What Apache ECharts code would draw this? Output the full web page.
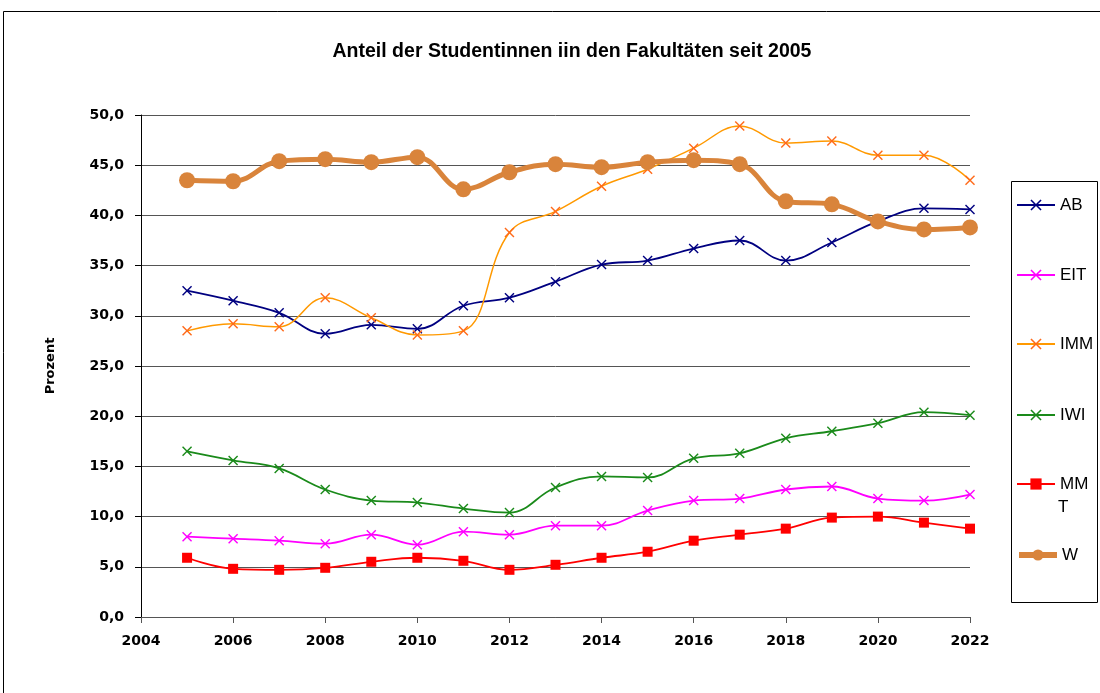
<!DOCTYPE html>
<html>
<head>
<meta charset="utf-8">
<script src="https://cdn.jsdelivr.net/npm/echarts@6/dist/echarts.min.js"></script>
<style>
html, body { margin: 0; padding: 0; background: #fff; }
#main { width: 1100px; height: 693px; }
</style>
</head>
<body>
<div id="main"></div>
<script>
var years = [2005, 2006, 2007, 2008, 2009, 2010, 2011, 2012, 2013, 2014, 2015, 2016, 2017, 2018, 2019, 2020, 2021, 2022];
var ab  = [32.5, 31.5, 30.3, 28.2, 29.1, 28.7, 31.0, 31.8, 33.4, 35.1, 35.5, 36.7, 37.5, 35.5, 37.3, 39.4, 40.7, 40.6];
var eit = [8.0, 7.8, 7.6, 7.3, 8.2, 7.2, 8.5, 8.2, 9.1, 9.1, 10.6, 11.6, 11.8, 12.7, 13.0, 11.8, 11.6, 12.2];
var imm = [28.5, 29.2, 28.9, 31.8, 29.8, 28.1, 28.5, 38.3, 40.4, 42.9, 44.6, 46.7, 48.9, 47.2, 47.4, 46.0, 46.0, 43.5];
var iwi = [16.5, 15.6, 14.8, 12.7, 11.6, 11.4, 10.8, 10.4, 12.9, 14.0, 13.9, 15.8, 16.3, 17.8, 18.5, 19.3, 20.4, 20.1];
var mmt = [5.9, 4.8, 4.7, 4.9, 5.5, 5.9, 5.6, 4.7, 5.2, 5.9, 6.5, 7.6, 8.2, 8.8, 9.9, 10.0, 9.4, 8.8];
var w   = [43.5, 43.4, 45.4, 45.6, 45.3, 45.8, 42.6, 44.3, 45.1, 44.8, 45.3, 45.5, 45.1, 41.4, 41.1, 39.4, 38.6, 38.8];
var names = ['AB', 'EIT', 'IMM', 'IWI', 'MMT', 'W'];

var dom = document.getElementById('main');
var myChart = echarts.init(dom);
var cross = 'path://M1,0 L5,4 L9,0 L10,1 L6,5 L10,9 L9,10 L5,6 L1,10 L0,9 L4,5 L0,1 Z';
var font = "'Liberation Sans', Arial, sans-serif";
var axisFont = "'DejaVu Sans', Verdana, sans-serif";

function pairs(arr) {
    return years.map(function (y, i) { return [y, arr[i]]; });
}

function lineSeries(name, arr, lineColor, markColor, width, symbol, size) {
    return {
        name: name,
        type: 'line',
        smooth: 0.4,
        data: pairs(arr),
        symbol: symbol,
        symbolSize: size,
        lineStyle: { color: lineColor, width: width },
        itemStyle: { color: markColor },
        emphasis: { disabled: true }
    };
}

// legend items, one per row, centred on these y positions
var legendY = [205, 275, 344, 415, 484, 555];
var legends = names.map(function (n, i) {
    return {
        data: [n],
        left: 1016,
        top: legendY[i] - 10,
        padding: 0,
        itemWidth: 38,
        itemHeight: 14,
        itemGap: 4,
        selectedMode: false,
        lineStyle: n === 'W' ? { width: 6 } : { width: 2 },
        formatter: function (name) { return name === 'MMT' ? 'MM' : name; },
        textStyle: { fontFamily: font, fontSize: 17, color: '#000', lineHeight: 20 }
    };
});

option = {
    animation: false,
    backgroundColor: '#fff',
    title: {
        text: 'Anteil der Studentinnen iin den Fakultäten seit 2005',
        left: 567,
        textAlign: 'center',
        top: 37,
        textStyle: { fontFamily: font, fontSize: 19.5, fontWeight: 'bold', color: '#000' }
    },
    legend: legends,
    grid: { left: 141, right: 130, top: 115, bottom: 76 },
    xAxis: {
        type: 'value',
        min: 2004,
        max: 2022,
        interval: 2,
        axisLine: { show: true, lineStyle: { color: '#555', width: 1 } },
        axisTick: { show: true, length: 6, lineStyle: { color: '#555' } },
        splitLine: { show: false },
        axisLabel: {
            margin: 17, fontFamily: axisFont, fontSize: 14, fontWeight: 'bold', color: '#000',
            formatter: function (v) { return String(v); }
        }
    },
    yAxis: {
        type: 'value',
        min: 0,
        max: 50,
        interval: 5,
        name: 'Prozent',
        nameLocation: 'middle',
        nameGap: 84,
        nameTextStyle: { fontFamily: axisFont, fontSize: 13, fontWeight: 'bold', color: '#000' },
        axisLine: { show: true, lineStyle: { color: '#000', width: 1 } },
        axisTick: { show: true, length: 6, lineStyle: { color: '#000' } },
        splitLine: { lineStyle: { color: '#555', width: 1 } },
        axisLabel: {
            margin: 17, fontFamily: axisFont, fontSize: 14, fontWeight: 'bold', color: '#000',
            formatter: function (v) { return v.toFixed(1).replace('.', ','); }
        }
    },
    graphic: [
        { type: 'rect', shape: { x: 3.5, y: 11.5, width: 1200, height: 800 }, style: { fill: null, stroke: '#000', lineWidth: 1 }, silent: true },
        { type: 'rect', shape: { x: 1011.5, y: 181.5, width: 86, height: 421 }, style: { fill: null, stroke: '#000', lineWidth: 1 }, silent: true },
        { type: 'text', left: 1058, top: 499, style: { text: 'T', fontFamily: font, fontSize: 17, fill: '#000' }, silent: true }
    ],
    series: [
        lineSeries('AB', ab, '#000080', '#000080', 1.8, cross, 10),
        lineSeries('EIT', eit, '#ff00ff', '#ff00ff', 1.8, cross, 10),
        lineSeries('IMM', imm, '#ff9900', '#ff6a1a', 1.5, cross, 10),
        lineSeries('IWI', iwi, '#1a8a1a', '#1a8a1a', 1.8, cross, 10),
        lineSeries('MMT', mmt, '#ff0000', '#ff0000', 1.8, 'rect', 10),
        lineSeries('W', w, '#d9843b', '#d9843b', 5, 'circle', 16)
    ]
};

if (option && typeof option === 'object') {
    myChart.setOption(option, true);
}
</script>
</body>
</html>
